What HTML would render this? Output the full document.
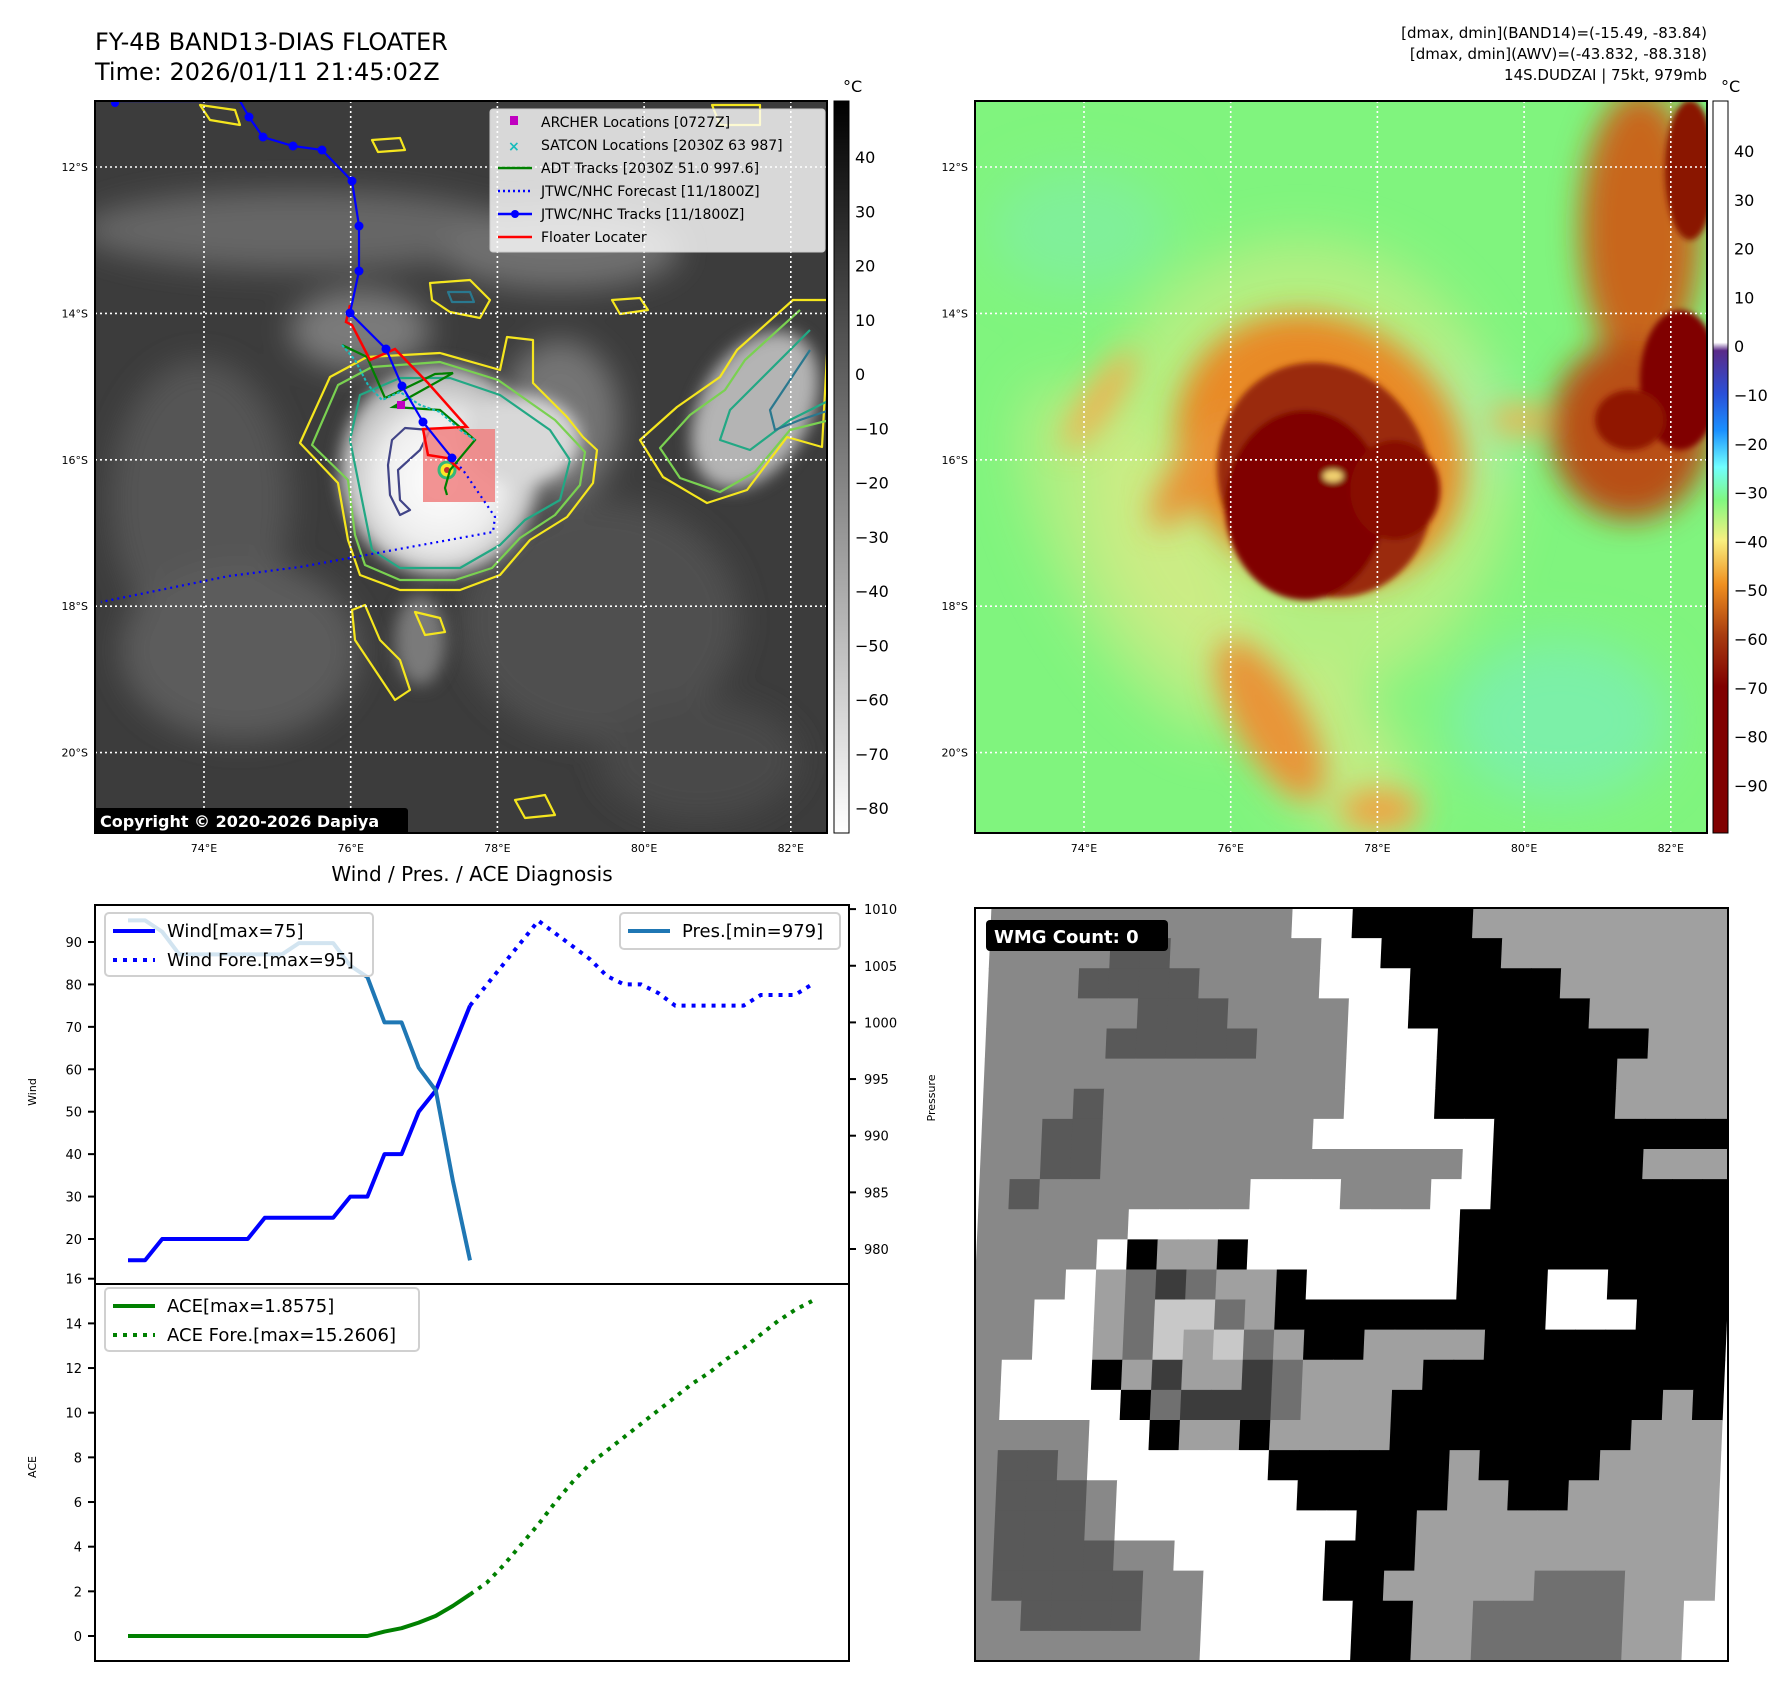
<!DOCTYPE html>
<html><head><meta charset="utf-8"><style>
html,body{margin:0;padding:0;background:#fff;}
svg{display:block;font-family:"DejaVu Sans","Liberation Sans",sans-serif;}
</style></head><body>
<svg id="fig" xmlns="http://www.w3.org/2000/svg" width="1788" height="1690" viewBox="0 0 1788 1690">
<defs>
  <clipPath id="c1"><rect x="95" y="101" width="732" height="732"/></clipPath>
  <clipPath id="c2"><rect x="975" y="101" width="732" height="732"/></clipPath>
  <clipPath id="c3"><rect x="975" y="908" width="753" height="753"/></clipPath>
  <filter id="b3"><feGaussianBlur stdDeviation="3"/></filter>
  <filter id="b8"><feGaussianBlur stdDeviation="8"/></filter>
  <filter id="b15"><feGaussianBlur stdDeviation="15"/></filter>
  <filter id="b25"><feGaussianBlur stdDeviation="25"/></filter>
  <radialGradient id="cloudg" cx="0.5" cy="0.55" r="0.5">
    <stop offset="0" stop-color="#ffffff"/><stop offset="0.6" stop-color="#eeeeee"/><stop offset="1" stop-color="#b8b8b8"/>
  </radialGradient>
  <linearGradient id="cb1" x1="0" y1="0" x2="0" y2="1">
    <stop offset="0" stop-color="#000"/><stop offset="1" stop-color="#fff"/>
  </linearGradient>
  <linearGradient id="cb2" x1="0" y1="101" x2="0" y2="833" gradientUnits="userSpaceOnUse">
    <stop offset="0" stop-color="#ffffff"/>
    <stop offset="0.33" stop-color="#ffffff"/>
    <stop offset="0.341" stop-color="#5a2a88"/>
    <stop offset="0.40" stop-color="#2a50d8"/>
    <stop offset="0.45" stop-color="#1a90ff"/>
    <stop offset="0.50" stop-color="#70ffff"/>
    <stop offset="0.545" stop-color="#80f880"/>
    <stop offset="0.60" stop-color="#f8f080"/>
    <stop offset="0.66" stop-color="#f09020"/>
    <stop offset="0.73" stop-color="#a83c10"/>
    <stop offset="0.80" stop-color="#800000"/>
    <stop offset="1" stop-color="#800000"/>
  </linearGradient>
</defs>

<text x="95" y="50" font-size="24">FY-4B BAND13-DIAS FLOATER</text>
<text x="95" y="80" font-size="24">Time: 2026/01/11 21:45:02Z</text>
<g font-size="15" text-anchor="end">
  <text x="1707" y="38">[dmax, dmin](BAND14)=(-15.49, -83.84)</text>
  <text x="1707" y="59">[dmax, dmin](AWV)=(-43.832, -88.318)</text>
  <text x="1707" y="80">14S.DUDZAI | 75kt, 979mb</text>
</g>

<g clip-path="url(#c1)">
  <rect x="95" y="101" width="732" height="732" fill="#3c3c3c"/>
  <g filter="url(#b15)" fill="#666">
    <ellipse cx="300" cy="230" rx="220" ry="40"/>
    <ellipse cx="560" cy="250" rx="120" ry="40" fill="#707070"/>
    <ellipse cx="200" cy="500" rx="90" ry="140" fill="#555"/>
    <ellipse cx="240" cy="650" rx="120" ry="90" fill="#5c5c5c"/>
    <ellipse cx="600" cy="620" rx="140" ry="120" fill="#505050"/>
    <ellipse cx="700" cy="760" rx="100" ry="60" fill="#4a4a4a"/>
    <ellipse cx="360" cy="330" rx="70" ry="40" fill="#7a7a7a"/>
    <ellipse cx="560" cy="420" rx="60" ry="80" fill="#757575"/>
  </g>
  <g filter="url(#b8)">
    <ellipse cx="440" cy="470" rx="100" ry="105" fill="url(#cloudg)"/>
    <ellipse cx="755" cy="410" rx="55" ry="85" fill="#b4b4b4" transform="rotate(30 755 410)"/>
    <ellipse cx="520" cy="440" rx="60" ry="45" fill="#d8d8d8"/>
    <ellipse cx="420" cy="640" rx="25" ry="45" fill="#7a7a7a"/>
  </g>
  <g fill="none" stroke-width="2.2" stroke-linejoin="round">
    <path d="M300,443 L330,377 L367,357 L440,353 L500,370 L507,337 L533,340 L533,383 L567,417 L583,437 L597,450 L593,483 L567,517 L530,540 L500,575 L460,590 L400,590 L360,575 L348,540 L338,483 Z" stroke="#f5e61e"/>
    <path d="M312,445 L338,385 L372,367 L440,362 L498,380 L555,420 L585,452 L580,485 L555,515 L520,538 L492,568 L455,580 L400,580 L365,565 L355,535 L348,480 Z" stroke="#7ad151"/>
    <path d="M350,440 L360,395 L400,378 L450,378 L500,395 L550,430 L570,460 L560,500 L525,520 L500,545 L460,568 L400,568 L372,550 L362,500 Z" stroke="#22a884"/>
    <path d="M392,440 L405,428 L430,430 L420,450 L398,470 L400,500 L410,510 L400,515 L390,495 L388,465 Z" stroke="#414487"/>
    <path d="M793,300 L737,350 L720,377 L677,407 L640,440 L663,477 L707,503 L747,490 L787,437 L822,447 L830,300 Z" stroke="#f5e61e"/>
    <path d="M800,310 L745,360 L725,390 L690,415 L660,448 L680,478 L720,492 L755,472 L790,430 L830,420" stroke="#7ad151"/>
    <path d="M810,330 L770,370 L730,410 L720,440 L750,450 L790,420 L830,400" stroke="#22a884"/>
    <path d="M810,350 L790,380 L770,410 L775,430 L800,420 L830,410" stroke="#2a788e"/>
    <path d="M430,283 L470,280 L490,300 L480,318 L450,312 L432,300 Z" stroke="#f5e61e"/>
    <path d="M448,292 L470,292 L474,302 L452,302 Z" stroke="#2a788e"/>
    <path d="M200,105 L235,110 L240,125 L210,120 Z" stroke="#f5e61e"/>
    <path d="M372,140 L400,138 L405,150 L378,152 Z" stroke="#f5e61e"/>
    <path d="M612,300 L640,298 L648,310 L620,314 Z" stroke="#f5e61e"/>
    <path d="M352,610 L365,605 L380,640 L400,660 L410,690 L395,700 L375,670 L355,640 Z" stroke="#f5e61e"/>
    <path d="M415,612 L440,618 L445,632 L425,635 Z" stroke="#f5e61e"/>
    <path d="M712,105 L760,105 L760,125 L720,125 Z" stroke="#f5e61e"/>
    <path d="M515,800 L545,795 L555,815 L525,818 Z" stroke="#f5e61e"/>
  </g>
  <rect x="423" y="429" width="72" height="73" fill="#f08080" opacity="0.85"/>
  <circle cx="447" cy="470" r="8" fill="#fde725" stroke="#35b779" stroke-width="3"/>
  <circle cx="447" cy="470" r="3" fill="#c03030"/>
  <g stroke="#fff" stroke-width="1.6" stroke-dasharray="2,3" id="grid1"></g>
  <polyline points="452,458 463,470 495,517 493,532 300,567 229,576 101,602" fill="none" stroke="#0000ff" stroke-width="2.2" stroke-dasharray="2,4"/>
  <polyline points="342,345 367,357 385,398 435,374 453,373 410,397 393,407 440,410 475,440 450,470 445,488 447,495" fill="none" stroke="#008000" stroke-width="2.2"/>
  <polyline points="342,345 355,360 368,385 382,400 400,392 420,405 440,412 460,430 475,440" fill="none" stroke="#17bcbc" stroke-width="2" stroke-dasharray="3,2"/>
  <polyline points="350,305 346,322 352,325 370,360 395,349 428,383 467,427 423,429 428,455 447,458 460,470" fill="none" stroke="#ff0000" stroke-width="2.5"/>
  <g>
    <polyline points="115,101 240,101 249,117 263,137 293,146 322,150 352,181 359,226 359,271 350,313 386,349 402,386 423,422 452,458" fill="none" stroke="#0000ff" stroke-width="2.2"/>
    <g fill="#0000ff"><circle cx="115" cy="103" r="4"/><circle cx="249" cy="117" r="4.5"/><circle cx="263" cy="137" r="4.5"/><circle cx="293" cy="146" r="4.5"/><circle cx="322" cy="150" r="4.5"/><circle cx="352" cy="181" r="4.5"/><circle cx="359" cy="226" r="4.5"/><circle cx="359" cy="271" r="4.5"/><circle cx="350" cy="313" r="4.5"/><circle cx="386" cy="349" r="4.5"/><circle cx="402" cy="386" r="4.5"/><circle cx="423" cy="422" r="4.5"/><circle cx="452" cy="458" r="4.5"/></g>
  </g>
  <rect x="397" y="401" width="8" height="8" fill="#c000c0"/>
  <g>
    <rect x="490" y="109" width="335" height="143" rx="3" fill="#fff" fill-opacity="0.8" stroke="#ccc"/>
    <g font-size="14">
      <rect x="510" y="116" width="8" height="9" fill="#c000c0"/><text x="541" y="127">ARCHER Locations [0727Z]</text>
      <text x="508" y="151" fill="#17bcbc" font-weight="bold" font-size="14">×</text><text x="541" y="150">SATCON Locations [2030Z 63 987]</text>
      <line x1="498" y1="168" x2="532" y2="168" stroke="#008000" stroke-width="2.5"/><text x="541" y="173">ADT Tracks [2030Z 51.0 997.6]</text>
      <line x1="498" y1="191" x2="532" y2="191" stroke="#0000ff" stroke-width="2.5" stroke-dasharray="2,3"/><text x="541" y="196">JTWC/NHC Forecast [11/1800Z]</text>
      <line x1="498" y1="214" x2="532" y2="214" stroke="#0000ff" stroke-width="2.5"/><circle cx="515" cy="214" r="4" fill="#0000ff"/><text x="541" y="219">JTWC/NHC Tracks [11/1800Z]</text>
      <line x1="498" y1="237" x2="532" y2="237" stroke="#ff0000" stroke-width="2.5"/><text x="541" y="242">Floater Locater</text>
    </g>
  </g>
  <g>
    <rect x="93" y="808" width="315" height="27" rx="3" fill="#000"/>
    <text x="100" y="827" font-size="16" font-weight="bold" fill="#fff">Copyright © 2020-2026 Dapiya</text>
  </g>
</g>
<rect x="95" y="101" width="732" height="732" fill="none" stroke="#000" stroke-width="2"/>
<g id="ticks1" font-size="11"></g>

<rect x="834" y="101" width="15" height="732" fill="url(#cb1)" stroke="#000" stroke-width="1"/>
<text x="843" y="92" font-size="16">°C</text>
<g id="cbt1" font-size="16"></g>

<g clip-path="url(#c2)">
  <rect x="975" y="101" width="732" height="732" fill="#80f47e"/>
  <g filter="url(#b25)">
    <ellipse cx="1440" cy="430" rx="90" ry="70" fill="#7cf0a8"/>
    <ellipse cx="1560" cy="720" rx="110" ry="80" fill="#7cf0a8"/>
    <ellipse cx="1080" cy="230" rx="90" ry="60" fill="#80f09a"/>
    <ellipse cx="1300" cy="470" rx="210" ry="230" fill="#e8ec88" opacity="0.5"/>
    <ellipse cx="1140" cy="560" rx="80" ry="200" fill="#e8e888" opacity="0.45" transform="rotate(-30 1140 560)"/>
    <ellipse cx="1340" cy="760" rx="60" ry="100" fill="#e8e888" opacity="0.6" transform="rotate(-35 1340 760)"/>
  </g>
  <g filter="url(#b15)">
    <ellipse cx="1320" cy="450" rx="150" ry="130" fill="#e88a28" transform="rotate(35 1320 450)"/>
    <ellipse cx="1270" cy="720" rx="35" ry="90" fill="#e89438" transform="rotate(-30 1270 720)"/>
    <ellipse cx="1195" cy="470" rx="22" ry="70" fill="#e89438" transform="rotate(35 1195 470)"/>
    <ellipse cx="1640" cy="230" rx="60" ry="140" fill="#c8661c"/>
    <ellipse cx="1630" cy="430" rx="80" ry="90" fill="#b85018"/>
    <ellipse cx="1100" cy="400" rx="15" ry="60" fill="#f0b050" transform="rotate(35 1100 400)"/>
    <ellipse cx="1520" cy="420" rx="30" ry="15" fill="#f0b050"/>
    <ellipse cx="1380" cy="810" rx="40" ry="20" fill="#f0a040"/>
  </g>
  <g filter="url(#b3)">
    <ellipse cx="1325" cy="480" rx="105" ry="120" fill="#9a2a08" transform="rotate(-25 1325 480)"/>
    <ellipse cx="1305" cy="505" rx="80" ry="95" fill="#800000"/>
    <ellipse cx="1395" cy="490" rx="45" ry="50" fill="#880800"/>
    <ellipse cx="1680" cy="380" rx="40" ry="70" fill="#800000"/>
    <ellipse cx="1690" cy="170" rx="25" ry="70" fill="#8a1400"/>
    <ellipse cx="1630" cy="420" rx="35" ry="30" fill="#901800"/>
    <ellipse cx="1333" cy="476" rx="10" ry="6" fill="#f0d070"/>
  </g>
  <g stroke="#fff" stroke-width="1.6" stroke-dasharray="2,3" id="grid2"></g>
</g>
<rect x="975" y="101" width="732" height="732" fill="none" stroke="#000" stroke-width="2"/>
<g id="ticks2" font-size="11"></g>
<rect x="1713" y="101" width="15" height="732" fill="url(#cb2)" stroke="#000" stroke-width="1"/>
<text x="1721" y="92" font-size="16">°C</text>
<g id="cbt2" font-size="16"></g>

<text x="472" y="881" font-size="20" text-anchor="middle">Wind / Pres. / ACE Diagnosis</text>
<g id="charts"></g>

<rect x="975" y="908" width="753" height="753" fill="#fff"/>
<g clip-path="url(#c3)"><g id="wmg" transform="translate(1351 1284) skewX(-2.5) translate(-1351 -1284)"></g></g>
<rect x="975" y="908" width="753" height="753" fill="none" stroke="#000" stroke-width="2"/>
<g>
  <rect x="986" y="920" width="182" height="31" rx="4" fill="#000"/>
  <text x="994" y="943" font-size="18" font-weight="bold" fill="#fff">WMG Count: 0</text>
</g>
</svg>
<script>
const NS='http://www.w3.org/2000/svg';
function mk(tag,attrs,parent){const e=document.createElementNS(NS,tag);for(const k in attrs)e.setAttribute(k,attrs[k]);parent.appendChild(e);return e;}

const windObs=[15,15,20,20,20,20,20,20,25,25,25,25,25,30,30,40,40,50,55,65,75];
const windFore=[75,80,85,90,95,92,89,86,82,80,80,78,75,75,75,75,75,77.5,77.5,77.5,80];
const presObs=[1009,1009,1008,1006,1006,1006,1006,1006,1006,1006,1007,1007,1007,1005,1004,1000,1000,996,994,986,979];
const aceObs=[0,0,0,0,0,0,0,0,0,0,0,0,0,0,0,0.2,0.35,0.6,0.9,1.35,1.86];
const aceFore=[1.86,2.4,3.2,4.1,5.0,6.0,6.9,7.7,8.3,8.9,9.5,10.1,10.7,11.3,11.8,12.4,12.9,13.5,14.1,14.6,15.0];
const windTicks=[20,30,40,50,60,70,80,90];
const presTicks=[980,985,990,995,1000,1005,1010];
const aceTicks=[0,2,4,6,8,10,12,14,16];
const lonTicks=[74,76,78,80,82];
const latTicks=[12,14,16,18,20];
const cb1Ticks=[40,30,20,10,0,-10,-20,-30,-40,-50,-60,-70,-80];
const cb2Ticks=[40,30,20,10,0,-10,-20,-30,-40,-50,-60,-70,-80,-90];

const xI=i=>128+i*17.1;
const yW=w=>1239-(w-20)*4.243;
const yP=p=>1249-(p-980)*11.33;
const yA=a=>1636-a*22.33;
const lonX=(lon,off)=>204+(lon-74)*73.35+off;
const latY=lat=>167+(lat-12)*73.2;
const cb1Y=v=>157+(40-v)*5.425;
const cb2Y=v=>151+(40-v)*4.88;

[['grid1','ticks1',0,95,827],['grid2','ticks2',880,975,1707]].forEach(([g,t,off,x0,x1])=>{
  const G=document.getElementById(g),T=document.getElementById(t);
  lonTicks.forEach(l=>{const x=lonX(l,off);
    const ln=mk('line',{x1:x,y1:101,x2:x,y2:833},G);
    
    
    const tx=mk('text',{x:x,y:852,'text-anchor':'middle'},T);tx.textContent=l+'°E';
    
    });
  latTicks.forEach(l=>{const y=latY(l);
    const ln=mk('line',{x1:x0,y1:y,x2:x1,y2:y},G);
    
    
    const tx=mk('text',{x:x0-7,y:y+4,'text-anchor':'end'},T);tx.textContent=l+'°S';
    
    });
});
[['cbt1',cb1Ticks,cb1Y,855],['cbt2',cb2Ticks,cb2Y,1734]].forEach(([id,ticks,f,x])=>{
  const T=document.getElementById(id);
  ticks.forEach(v=>{const tx=mk('text',{x:x,y:f(v)+6},T);tx.textContent=v<0?'\u2212'+(-v):String(v);
    
    });
});

const C=document.getElementById('charts');
const pts=(arr,f,s)=>arr.map((v,i)=>xI(i+s)+','+f(v)).join(' ');
let e;
e=mk('polyline',{points:pts(windObs,yW,0),fill:'none',stroke:'#0000ff','stroke-width':4,'stroke-linejoin':'round'},C);


e=mk('polyline',{points:pts(windFore,yW,20),fill:'none',stroke:'#0000ff','stroke-width':4,'stroke-dasharray':'4,6'},C);


e=mk('polyline',{points:pts(presObs,yP,0),fill:'none',stroke:'#1f77b4','stroke-width':4,'stroke-linejoin':'round'},C);


e=mk('polyline',{points:pts(aceObs,yA,0),fill:'none',stroke:'#008000','stroke-width':4,'stroke-linejoin':'round'},C);


e=mk('polyline',{points:pts(aceFore,yA,20),fill:'none',stroke:'#008000','stroke-width':4,'stroke-dasharray':'4,6'},C);


e=mk('rect',{x:95,y:905,width:754,height:379,fill:'none',stroke:'#000','stroke-width':2},C);


e=mk('rect',{x:95,y:1284,width:754,height:377,fill:'none',stroke:'#000','stroke-width':2},C);


function ticks(list,f,x,dir,lx,anchor,name){list.forEach(v=>{const y=f(v);
  const l=mk('line',{x1:x,y1:y,x2:x+dir*7,y2:y,stroke:'#000','stroke-width':2},C);
  
  
  const t=mk('text',{x:lx,y:y+5,'font-size':13,'text-anchor':anchor},C);t.textContent=v;
  
  });}
ticks(windTicks,yW,95,-1,82,'end','wind-axis');
ticks(presTicks,yP,849,1,864,'start','pressure-axis');
ticks(aceTicks,yA,95,-1,82,'end','ace-axis');
function ylab(txt,x,y,name){const t=mk('text',{x:x,y:y,'font-size':11,'text-anchor':'middle',transform:'rotate(-90 '+x+' '+y+')'},C);t.textContent=txt;
  
  }
ylab('Wind',36,1092,'wind-axis-title');ylab('Pressure',935,1098,'pressure-axis-title');ylab('ACE',36,1467,'ace-axis-title');
function legend(x,y,w,h,rows,name){const g=mk('g',{},C);
  
  
  mk('rect',{x:x,y:y,width:w,height:h,rx:4,fill:'#fff','fill-opacity':0.8,stroke:'#d0d0d0','stroke-width':2},g);
  rows.forEach((r,i)=>{const yy=y+18+i*29;
    const a={x1:x+8,y1:yy,x2:x+50,y2:yy,stroke:r[1],'stroke-width':4};if(r[2])a['stroke-dasharray']='4,6';
    mk('line',a,g);const t=mk('text',{x:x+62,y:yy+6,'font-size':18},g);t.textContent=r[0];});}
legend(105,913,268,63,[['Wind[max=75]','#0000ff',0],['Wind Fore.[max=95]','#0000ff',1]],'wind-legend');
legend(620,913,220,36,[['Pres.[min=979]','#1f77b4',0]],'pressure-legend');
legend(105,1288,314,63,[['ACE[max=1.8575]','#008000',0],['ACE Fore.[max=15.2606]','#008000',1]],'ace-legend');

const wmgRows=["GGGGGGGGGGWWKKKKLLLLLLLLL","GGGGDDGGGGGWWKKKKLLLLLLLL","GGGDDDDGGGGWWWKKKKKLLLLLL","GGGGGDDDGGGGWWKKKKKKLLLLL","GGGGDDDDDGGGWWWKKKKKKKLLL","GGGGGGGGGGGGWWWKKKKKKLLLL","GGGDGGGGGGGGWWWKKKKKKLLLL","GGDDGGGGGGGWWWWWWKKKKKKKK","GGDDGGGGGGGGGGGGWKKKKKLLL","GDGGGGGGGWWWGGGWWKKKKKKKK","GGGGGWWWWWWWWWWWKKKKKKKKK","GGGGWKLLKWWWWWWWKKKKKKKKK","GGGWLMXMLLKWWWWWKKKWWKKKK","GGWWLMPPMLKKKKKKKKKWWWKKK","GGWWLMPLPMLKKLLLLKKKKKKKK","GWWWKLXLLXMLLLLKKKKKKKKKK","GWWWWKMXXXMLLLKKKKKKKKKLK","GGGGWWKLLKLLLLKKKKKKKKLLL","GDDGWWWWWWKKKKKKLKKKKLLLL","GDDDGWWWWWWKKKKKLLKKLLLLL","GDDDGWWWWWWWWKKLLLLLLLLLL","GDDDDGGWWWWWKKKLLLLLLLLLL","GDDDDDGGWWWWKKLLLLLMMMLLL","GGDDDDGGWWWWWKKLLMMMMMLLW","GGGGGGGGWWWWWKKLLMMMMMLLW"];
const wmgColors={G:'#888888',D:'#595959',L:'#a0a0a0',M:'#707070',X:'#3c3c3c',P:'#c8c8c8',K:'#000000',W:'#ffffff'};
const W=document.getElementById('wmg');const cs=753/25;
wmgRows.forEach((row,r)=>{[...row].forEach((ch,c)=>{
  const rc=mk('rect',{x:(975+c*cs).toFixed(2),y:(908+r*cs).toFixed(2),width:(cs+0.6).toFixed(2),height:(cs+0.6).toFixed(2),fill:wmgColors[ch]},W);
  
  
});});
</script>
</body></html>
